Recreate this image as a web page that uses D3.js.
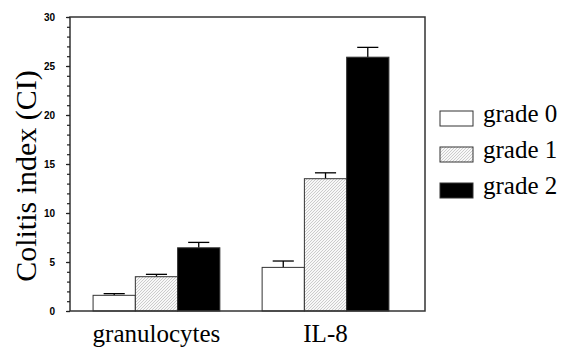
<!DOCTYPE html>
<html>
<head>
<meta charset="utf-8">
<script src="https://cdn.jsdelivr.net/npm/d3@7"></script>
<style>
  body { margin: 0; background: #fff; }
  svg { display: block; }
</style>
</head>
<body>
<div id="chart"></div>
<script>
// Chart data
const categories = ['granulocytes', 'IL-8'];
const grades = ['grade 0', 'grade 1', 'grade 2'];
const grade0 = [1.6, 4.45];
const grade1 = [3.5, 13.5];
const grade2 = [6.45, 25.9];
const grade0Err = [0.17, 0.65];
const grade1Err = [0.24, 0.6];
const grade2Err = [0.55, 1.0];
const yTicks = [0, 5, 10, 15, 20, 25, 30];

(function() {
    const width = 562, height = 349;
    const margin = {top: 17, right: 137, bottom: 38, left: 70};

    const svg = d3.select('#chart')
        .append('svg')
        .attr('width', width)
        .attr('height', height);

    // Fine hatch pattern for grade 1
    const defs = svg.append('defs');
    const pat = defs.append('pattern')
        .attr('id', 'hatch')
        .attr('patternUnits', 'userSpaceOnUse')
        .attr('width', 3)
        .attr('height', 3);
    pat.append('rect').attr('width', 3).attr('height', 3).attr('fill', '#f8f8f8');
    pat.append('path')
        .attr('d', 'M-1,1 l2,-2 M0,3 l3,-3 M2,4 l2,-2')
        .attr('stroke', '#b4b4b4')
        .attr('stroke-width', 0.65);

    const fills = ['#ffffff', 'url(#hatch)', '#000000'];

    // Scales
    const x0 = d3.scaleBand()
        .domain(categories)
        .range([margin.left, width - margin.right])
        .paddingInner(0.25)
        .paddingOuter(0.175)
        .align(0.39);

    const x1 = d3.scaleBand()
        .domain(grades)
        .range([0, x0.bandwidth()]);

    const y = d3.scaleLinear()
        .domain([0, 30])
        .range([height - margin.bottom, margin.top]);

    // Build series table
    const values = [grade0, grade1, grade2];
    const errs = [grade0Err, grade1Err, grade2Err];
    const rows = [];
    categories.forEach((c, i) => {
        grades.forEach((g, j) => {
            rows.push({cat: c, grade: g, idx: j, value: values[j][i], err: errs[j][i]});
        });
    });

    // Error bars (upper only)
    const eb = svg.append('g');
    rows.forEach(d => {
        const cx = x0(d.cat) + x1(d.grade) + x1.bandwidth() / 2;
        const capW = x1.bandwidth() / 2;
        eb.append('line')
            .attr('x1', cx).attr('x2', cx)
            .attr('y1', y(d.value)).attr('y2', y(d.value + d.err))
            .attr('stroke', '#000').attr('stroke-width', 1.3);
        eb.append('line')
            .attr('x1', cx - capW / 2).attr('x2', cx + capW / 2)
            .attr('y1', y(d.value + d.err)).attr('y2', y(d.value + d.err))
            .attr('stroke', '#000').attr('stroke-width', 1.3);
    });

    // Bars
    svg.append('g')
        .selectAll('rect')
        .data(rows)
        .enter()
        .append('rect')
        .attr('x', d => x0(d.cat) + x1(d.grade))
        .attr('y', d => y(d.value))
        .attr('width', x1.bandwidth())
        .attr('height', d => y(0) - y(d.value))
        .attr('fill', d => fills[d.idx])
        .attr('stroke', '#333')
        .attr('stroke-width', 1);

    // Frame
    svg.append('rect')
        .attr('x', margin.left)
        .attr('y', margin.top)
        .attr('width', width - margin.right - margin.left)
        .attr('height', y(0) - margin.top)
        .attr('fill', 'none')
        .attr('stroke', '#333')
        .attr('stroke-width', 1.5);

    // Y axis with minor ticks
    const yAxis = svg.append('g')
        .attr('transform', `translate(${margin.left},0)`);
    yAxis.call(d3.axisLeft(y).tickValues(d3.range(0, 31, 1)).tickSize(3).tickFormat(''))
        .call(g => g.select('.domain').remove())
        .call(g => g.selectAll('line').attr('stroke', '#222').attr('stroke-width', 1.2));
    const yMajor = svg.append('g')
        .attr('transform', `translate(${margin.left},0)`);
    yMajor.call(d3.axisLeft(y).tickValues(yTicks).tickSize(4).tickPadding(11))
        .call(g => g.select('.domain').remove())
        .call(g => g.selectAll('line').attr('stroke', '#222').attr('stroke-width', 1.2))
        .call(g => g.selectAll('text')
            .attr('font-family', 'Liberation Sans, Arial, sans-serif')
            .attr('font-weight', 'bold')
            .attr('font-size', 10)
            .attr('fill', '#000'));

    // Category labels
    svg.append('g')
        .selectAll('text')
        .data(categories)
        .enter()
        .append('text')
        .attr('x', d => x0(d) + x0.bandwidth() / 2)
        .attr('y', 342)
        .attr('text-anchor', 'middle')
        .attr('font-family', 'Liberation Serif, Times New Roman, serif')
        .attr('font-size', 25)
        .attr('fill', '#000')
        .text(d => d);

    // Y axis title
    svg.append('text')
        .attr('transform', `translate(36,${176}) rotate(-90)`)
        .attr('text-anchor', 'middle')
        .attr('font-family', 'Liberation Serif, Times New Roman, serif')
        .attr('font-size', 30)
        .attr('fill', '#000')
        .text('Colitis index (CI)');

    // Legend
    const legend = svg.append('g')
        .attr('transform', 'translate(440,111)');
    grades.forEach((g, i) => {
        const row = legend.append('g').attr('transform', `translate(0,${i * 36})`);
        row.append('rect')
            .attr('width', 33).attr('height', 15)
            .attr('fill', fills[i])
            .attr('stroke', '#333').attr('stroke-width', 1);
        row.append('text')
            .attr('x', 43).attr('y', 11)
            .attr('font-family', 'Liberation Serif, Times New Roman, serif')
            .attr('font-size', 25)
            .attr('fill', '#000')
            .text(g);
    });
})();
</script>
</body>
</html>
